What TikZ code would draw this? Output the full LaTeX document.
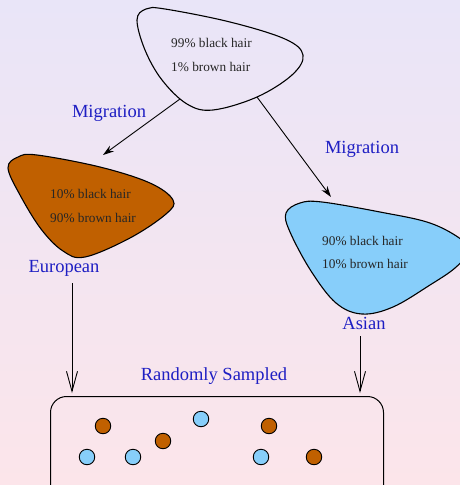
\documentclass[tikz,border=0pt]{standalone}
\usepackage{fontspec}
\setmainfont{Liberation Serif}
\usetikzlibrary{arrows.meta}
\definecolor{bgtop}{RGB}{233,229,248}
\definecolor{bgbot}{RGB}{252,229,234}
\definecolor{hairbrown}{RGB}{192,96,0}
\definecolor{hairblue}{RGB}{135,206,250}
\definecolor{labelblue}{RGB}{30,30,195}
\tikzset{
  blob/.style={draw=black, line width=1.1pt},
  stat/.style={anchor=west, inner sep=0pt, font=\fontsize{13.3}{15}\selectfont, text=black!85},
  tag/.style={inner sep=0pt, font=\fontsize{18.5}{21}\selectfont, text=labelblue},
  migrate/.style={draw=black, line width=0.9pt, -{Stealth[length=11pt,width=7pt]}},
  sample/.style={draw=black, line width=0.9pt, -{Straight Barb[length=20pt,width=11pt,line width=0.9pt]}},
  dot/.style={circle, draw=black, line width=0.9pt, minimum size=15.5pt, inner sep=0pt},
  browndot/.style={dot, fill=hairbrown},
  bluedot/.style={dot, fill=hairblue},
  pool/.style={draw=black, line width=1pt, rounded corners=16pt}
}
\begin{document}
\begin{tikzpicture}[x=1pt, y=-1pt]
  % page and background shading
  \useasboundingbox (0,0) rectangle (460,485);
  \shade[top color=bgtop, bottom color=bgbot] (0,0) rectangle (460,485);
  \clip (0,0) rectangle (460,485);

  % ancestral population
  \draw[blob]
    plot[smooth cycle, tension=0.6] coordinates {
      (137,20) (146,9) (165,9) (230,22) (285,39) (303,55) (292,75)
      (257,97) (213,110) (187,104) (162,80) (145,50)};
  \node[stat] (top1) at (171,43) {99\% black hair};
  \node[stat] (top2) at (171,67) {1\% brown hair};

  % European population
  \draw[blob, fill=hairbrown]
    plot[smooth cycle, tension=0.6] coordinates {
      (8,168) (18,157) (37,155) (100,167) (150,183) (173,200) (166,214)
      (130,238) (85,257) (63,251) (41,229) (20,195)};
  \node[stat] (eu1) at (50,194) {10\% black hair};
  \node[stat] (eu2) at (50,218) {90\% brown hair};

  % Asian population
  \draw[blob, fill=hairblue]
    plot[smooth cycle, tension=0.6] coordinates {
      (286,213) (300,203) (322,202) (380,212) (430,223) (462,240) (468,252)
      (455,268) (430,285) (393,307) (362,314) (336,303) (311,271) (290,232)};
  \node[stat] (as1) at (322,241) {90\% black hair};
  \node[stat] (as2) at (322,264) {10\% brown hair};

  % labels
  \node[tag] (migL) at (109,113) {Migration};
  \node[tag] (migR) at (362,149) {Migration};
  \node[tag] (eu) at (64,268) {European};
  \node[tag] (as) at (364,323) {Asian};
  \node[tag] (rs) at (214,376) {Randomly Sampled};

  % migration connectors
  \coordinate (srcL) at (180,99);
  \coordinate (dstL) at (103,155);
  \coordinate (srcR) at (257,97);
  \coordinate (dstR) at (331,197);
  \draw[migrate] (srcL) -- (dstL);
  \draw[migrate] (srcR) -- (dstR);

  % sample pool
  \node[pool, minimum width=333pt, minimum height=110pt, anchor=north west] (pool) at (50,396) {};
  \coordinate (inL) at (72,393);
  \coordinate (inR) at (360,393);
  \coordinate (fromEu) at (72,283);
  \coordinate (fromAs) at (360,336);
  \draw[sample] (fromEu) -- (inL);
  \draw[sample] (fromAs) -- (inR);

  % sampled individuals
  \node[browndot] (s1) at (103,426) {};
  \node[bluedot]  (s2) at (87,457) {};
  \node[bluedot]  (s3) at (133,457) {};
  \node[browndot] (s4) at (163,441) {};
  \node[bluedot]  (s5) at (201,419) {};
  \node[browndot] (s6) at (269,426) {};
  \node[bluedot]  (s7) at (261,457) {};
  \node[browndot] (s8) at (314,457) {};
\end{tikzpicture}
\end{document}
